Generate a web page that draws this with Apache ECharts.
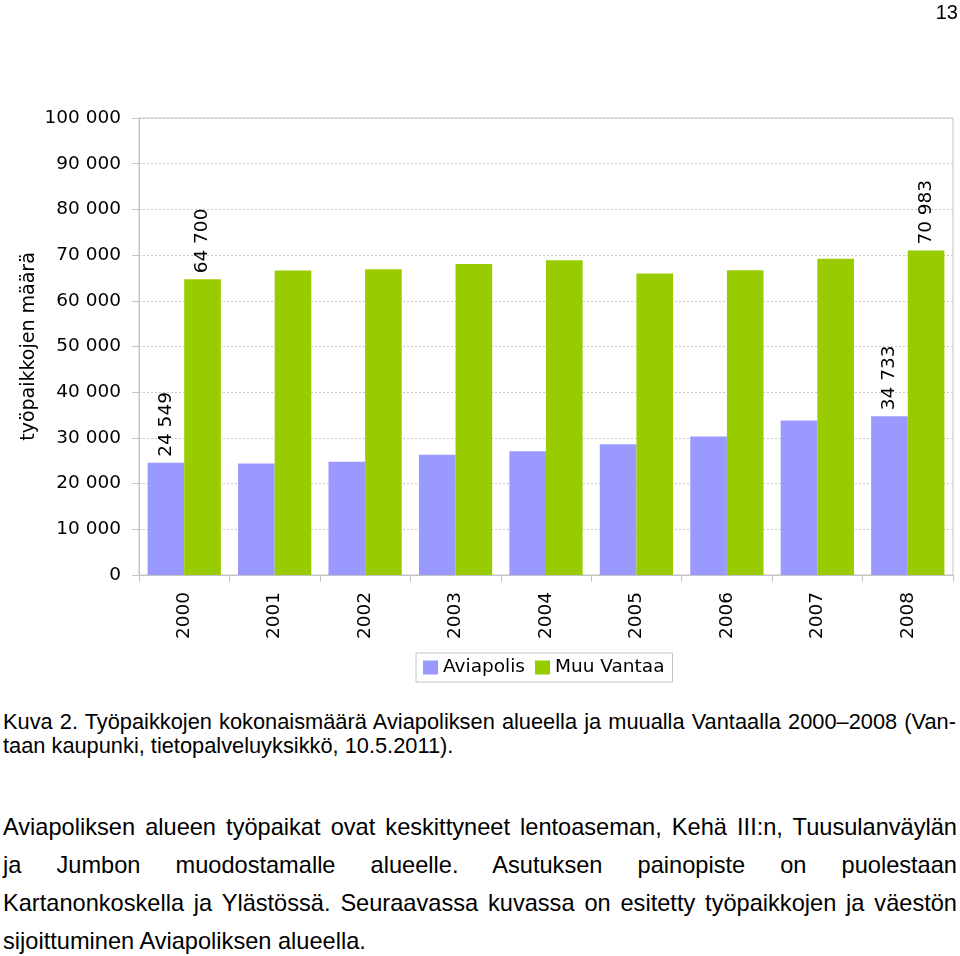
<!DOCTYPE html>
<html>
<head>
<meta charset="utf-8">
<script src="https://cdn.jsdelivr.net/npm/echarts@6/dist/echarts.min.js"></script>
<style>
  html, body { margin: 0; padding: 0; background: #fff; }
  #page { position: relative; width: 960px; height: 956px; overflow: hidden; }
  #chart { position: absolute; left: 0; top: 0; width: 960px; height: 700px; }
  .t { position: absolute; font-family: "Liberation Sans", Arial, sans-serif; color: #000; white-space: nowrap; }
  .cap { font-size: 21.8px; line-height: 24px; left: 3px; width: 953px; }
  .body { font-size: 23.6px; line-height: 38px; left: 3px; width: 954px; }
  .j { text-align: justify; text-align-last: justify; }
</style>
</head>
<body>
<div id="page">
  <div id="chart"></div>
  <div class="t" style="right:2px; top:0; font-size:20px; line-height:25px;">13</div>
  <div class="t cap j" style="top:710px;">Kuva 2. Työpaikkojen kokonaismäärä Aviapoliksen alueella ja muualla Vantaalla 2000–2008 (Van-</div>
  <div class="t cap" style="top:734px;">taan kaupunki, tietopalveluyksikkö, 10.5.2011).</div>
  <div class="t body j" style="top:808px;">Aviapoliksen alueen työpaikat ovat keskittyneet lentoaseman, Kehä III:n, Tuusulanväylän</div>
  <div class="t body j" style="top:846px;">ja Jumbon muodostamalle alueelle. Asutuksen painopiste on puolestaan</div>
  <div class="t body j" style="top:884px;">Kartanonkoskella ja Ylästössä. Seuraavassa kuvassa on esitetty työpaikkojen ja väestön</div>
  <div class="t body" style="top:922px;">sijoittuminen Aviapoliksen alueella.</div>
</div>
<script>
const years = ['2000', '2001', '2002', '2003', '2004', '2005', '2006', '2007', '2008'];
const aviapolis = [24549, 24400, 24800, 26300, 27100, 28600, 30300, 33800, 34733];
const muuVantaa = [64700, 66650, 66900, 68050, 68850, 65950, 66700, 69200, 70983];
const seriesNames = ['Aviapolis', 'Muu Vantaa'];
const labelledIdx = [0, 8];

function fmt(v) {
  return String(Math.round(v)).replace(/\B(?=(\d{3})+(?!\d))/g, ' ');
}
const FONT = '"DejaVu Sans", Verdana, sans-serif';
const FS = 18.5;

function items(arr) {
  return arr.map((v, i) => ({ value: v, label: { show: labelledIdx.indexOf(i) >= 0 } }));
}
const barLabel = {
  position: 'top', rotate: 90, align: 'left', verticalAlign: 'middle', distance: 6,
  fontFamily: FONT, fontSize: FS, color: '#000',
  formatter: p => fmt(p.value)
};

const chart = echarts.init(document.getElementById('chart'), null, { renderer: 'canvas' });
chart.setOption({
  animation: false,
  textStyle: { fontFamily: FONT },
  grid: { left: 139, top: 118, right: 7, height: 457, show: true, borderColor: '#c4c4c4', borderWidth: 1, containLabel: false },
  legend: {
    data: seriesNames, left: 416, top: 653, orient: 'horizontal',
    itemWidth: 15, itemHeight: 14, itemGap: 10, padding: [5, 8, 5, 7],
    borderColor: '#c4c4c4', borderWidth: 1,
    icon: 'rect',
    textStyle: { fontFamily: FONT, fontSize: FS, color: '#000' }
  },
  xAxis: {
    type: 'category', data: years, boundaryGap: true,
    axisLine: { lineStyle: { color: '#c4c4c4', width: 1 } },
    axisTick: { show: true, length: 7, lineStyle: { color: '#c4c4c4' } },
    axisLabel: { rotate: 90, margin: 17, fontFamily: FONT, fontSize: FS, color: '#000' }
  },
  yAxis: {
    type: 'value', min: 0, max: 100000, interval: 10000,
    name: 'työpaikkojen määrä', nameLocation: 'middle', nameRotate: 90, nameGap: 100,
    nameMoveOverlap: false,
    nameTextStyle: { fontFamily: FONT, fontSize: 19, color: '#000' },
    axisLine: { show: true, lineStyle: { color: '#c4c4c4', width: 1 } },
    axisTick: { show: true, length: 7, lineStyle: { color: '#c4c4c4' } },
    axisLabel: { margin: 18, fontFamily: FONT, fontSize: FS, color: '#000', formatter: v => fmt(v) },
    splitLine: { show: true, lineStyle: { color: '#c8c8c8', type: [2, 2], width: 1 } }
  },
  series: [
    { name: seriesNames[0], type: 'bar', data: items(aviapolis), barGap: '0%', barCategoryGap: '19%',
      itemStyle: { color: '#9999FF' }, label: barLabel },
    { name: seriesNames[1], type: 'bar', data: items(muuVantaa), barGap: '0%', barCategoryGap: '19%',
      itemStyle: { color: '#99CC00' }, label: barLabel }
  ]
});
</script>
</body>
</html>
